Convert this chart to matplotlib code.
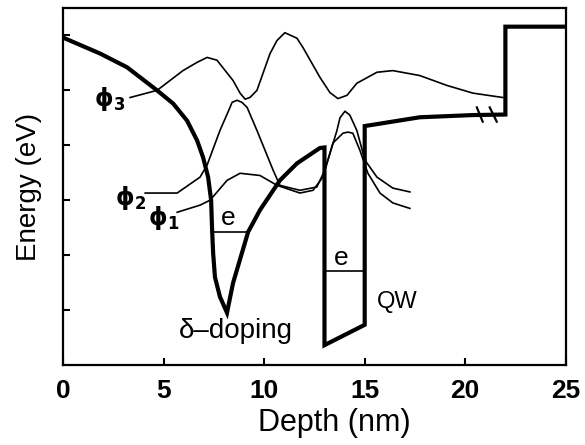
import matplotlib
matplotlib.use("Agg")
import matplotlib.pyplot as plt

plt.rcParams['font.family'] = ['Liberation Sans', 'DejaVu Sans']
plt.rcParams['mathtext.fontset'] = 'dejavusans'

# Conduction band profile (Depth nm, Energy arb.)
band_x = [0, 1.84, 3.18, 4.67, 5.47, 6.16, 6.66, 6.96, 7.21, 7.36, 7.41, 7.46, 7.55, 7.80, 8.15,
          8.45, 9.20, 9.79, 10.78, 11.63, 12.77, 13.0,
          13.0, 15.0, 15.0, 17.74, 20.38, 22.0, 22.0, 25.0]
band_y = [5.96, 5.67, 5.42, 5.00, 4.76, 4.45, 4.09, 3.78, 3.42, 3.00, 2.45, 2.04, 1.60, 1.24, 0.95,
          1.49, 2.42, 2.82, 3.36, 3.67, 3.95, 3.96,
          0.36, 0.73, 4.35, 4.51, 4.55, 4.56, 6.16, 6.16]

# Wavefunctions
phi3_x = [3.33, 4.67, 5.96, 6.66, 7.16, 7.65, 8.45, 8.80, 9.05, 9.29, 9.64, 10.29, 10.64,
          11.03, 11.63, 11.93, 12.77, 13.27, 13.67, 14.12, 14.61, 15.61, 16.40, 17.74,
          19.09, 20.38, 21.87]
phi3_y = [4.87, 5.00, 5.36, 5.51, 5.60, 5.55, 5.18, 4.95, 4.84, 4.87, 5.00, 5.67, 5.91,
          6.05, 5.95, 5.78, 5.24, 4.96, 4.85, 4.91, 5.13, 5.33, 5.36, 5.27,
          5.09, 4.95, 4.87]

phi2_x = [4.08, 5.67, 6.81, 7.16, 7.80, 8.30, 8.40, 8.65, 8.90, 9.15, 9.64, 10.44, 10.78,
          11.78, 12.62, 13.02, 13.62, 13.77, 14.02, 14.26, 14.61, 15.01, 15.61, 16.40, 17.25]
phi2_y = [3.13, 3.13, 3.42, 3.64, 4.27, 4.69, 4.78, 4.82, 4.78, 4.69, 4.27, 3.55, 3.27,
          3.18, 3.24, 3.55, 4.27, 4.50, 4.62, 4.55, 4.27, 3.73, 3.42, 3.22, 3.15]

phi1_x = [5.67, 6.81, 7.31, 8.15, 8.80, 9.79, 10.64, 11.78, 12.43, 12.92, 13.42, 13.92,
          14.16, 14.41, 14.76, 15.16, 15.76, 16.40, 17.25]
phi1_y = [2.78, 2.91, 3.00, 3.36, 3.49, 3.45, 3.27, 3.13, 3.18, 3.42, 4.04, 4.22,
          4.24, 4.22, 3.91, 3.49, 3.13, 2.95, 2.85]

# Bound-state levels
level_delta_x = [7.45, 9.2]
level_delta_y = [2.42, 2.42]
level_qw_x = [13.0, 15.0]
level_qw_y = [1.71, 1.71]

# Axis break marks
break1_x = [20.58, 20.87]
break1_y = [4.69, 4.43]
break2_x = [21.22, 21.57]
break2_y = [4.69, 4.43]

xticks = [0, 5, 10, 15, 20, 25]
xtick_labels = ['0', '5', '10', '15', '20', '25']
yticks = [1, 2, 3, 4, 5, 6]

fig = plt.figure(figsize=(5.85, 4.45), dpi=100)
ax = fig.add_axes([0.108, 0.18, 0.859, 0.802])

ax.plot(band_x, band_y, color='black', lw=3.0, solid_joinstyle='miter')
ax.plot(phi3_x, phi3_y, color='black', lw=1.2, solid_joinstyle='round')
ax.plot(phi2_x, phi2_y, color='black', lw=1.2, solid_joinstyle='round')
ax.plot(phi1_x, phi1_y, color='black', lw=1.2, solid_joinstyle='round')
ax.plot(level_delta_x, level_delta_y, color='black', lw=1.2)
ax.plot(level_qw_x, level_qw_y, color='black', lw=1.2)
ax.plot(break1_x, break1_y, color='black', lw=1.6)
ax.plot(break2_x, break2_y, color='black', lw=1.6)

ax.text(8.2, 2.68, 'e', fontsize=19, ha='center', va='center')
ax.text(13.85, 1.94, 'e', fontsize=19, ha='center', va='center')
ax.text(8.6, 0.62, 'δ–doping', fontsize=20, ha='center', va='center')
ax.text(16.6, 1.15, 'QW', fontsize=17, ha='center', va='center')
ax.text(2.3, 4.85, r'$\mathbf{\phi_3}$', fontsize=17, ha='center', va='center')
ax.text(3.35, 3.04, r'$\mathbf{\phi_2}$', fontsize=17, ha='center', va='center')
ax.text(5.0, 2.67, r'$\mathbf{\phi_1}$', fontsize=17, ha='center', va='center')

ax.set_xlim(0, 25)
ax.set_ylim(0, 6.5)
ax.set_xticks(xticks)
ax.set_xticklabels(xtick_labels, fontsize=19, fontweight='bold')
ax.set_yticks(yticks)
ax.set_yticklabels([])
ax.tick_params(axis='both', direction='in', length=5, width=1.5)
ax.tick_params(axis='x', pad=10)
for s in ax.spines.values():
    s.set_linewidth(1.6)

ax.set_xlabel('Depth (nm)', fontsize=22)
ax.xaxis.set_label_coords(0.539, -0.12)
ax.set_ylabel('Energy (eV)', fontsize=20, labelpad=12)

fig.savefig('out.png', dpi=100)
